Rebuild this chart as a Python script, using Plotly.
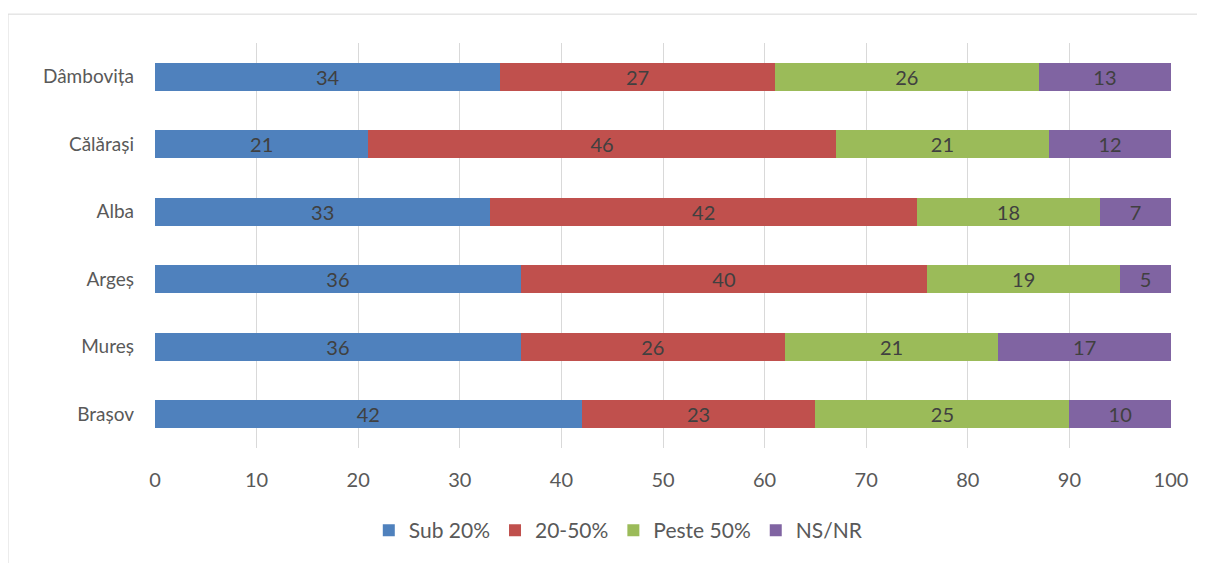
import plotly.graph_objects as go

categories = ["Brașov", "Mureș", "Argeș", "Alba", "Călărași", "Dâmbovița"]
series_names = ["Sub 20%", "20-50%", "Peste 50%", "NS/NR"]
sub20 = [42, 36, 36, 33, 21, 34]
p20_50 = [23, 26, 40, 42, 46, 27]
peste50 = [25, 21, 19, 18, 21, 26]
nsnr = [10, 17, 5, 7, 12, 13]
colors = ["#4f81bd", "#c0504d", "#9bbb59", "#8064a2"]
x_ticks = [0, 10, 20, 30, 40, 50, 60, 70, 80, 90, 100]

FONT = "Lato"

fig = go.Figure()
for name, vals, col in zip(series_names, [sub20, p20_50, peste50, nsnr], colors):
    fig.add_trace(go.Bar(
        y=categories, x=vals, name=name, orientation="h",
        marker=dict(color=col, line=dict(width=0)),
        text=[str(v) for v in vals], textposition="inside",
        insidetextanchor="middle", textangle=0, constraintext="none",
        textfont=dict(color="#404040", size=20, family=FONT),
        width=0.41,
    ))

fig.update_layout(
    barmode="stack",
    width=1197, height=555,
    margin=dict(l=147, r=34, t=35, b=113),
    paper_bgcolor="white", plot_bgcolor="white",
    font=dict(family=FONT, size=20, color="#595959"),
    showlegend=True,
    legend=dict(orientation="h", x=0.456, xanchor="center", y=-0.204, yanchor="middle",
                font=dict(size=21, color="#595959"), traceorder="normal",
                itemwidth=30, itemsizing="constant"),
    uniformtext=dict(mode="show", minsize=10),
)
fig.update_xaxes(range=[0, 100], tickvals=x_ticks, showgrid=True, gridcolor="#d9d9d9",
                 gridwidth=1, zeroline=False, showline=False, ticks="",
                 ticklabelstandoff=18,
                 tickfont=dict(size=20, color="#595959"), fixedrange=True)
fig.update_yaxes(categoryorder="array", categoryarray=categories, showgrid=False,
                 zeroline=False, showline=False, ticks="", ticklabelstandoff=20,
                 tickfont=dict(size=19, color="#595959"))

fig.add_shape(type="rect", xref="paper", yref="paper",
              x0=(0 - 147) / 1016, x1=(1215 - 147) / 1016,
              y0=(442 - 575) / 407, y1=1 + (35 - 6) / 407,
              line=dict(color="#d9d9d9", width=1), layer="below")

fig.write_html("out.html")
